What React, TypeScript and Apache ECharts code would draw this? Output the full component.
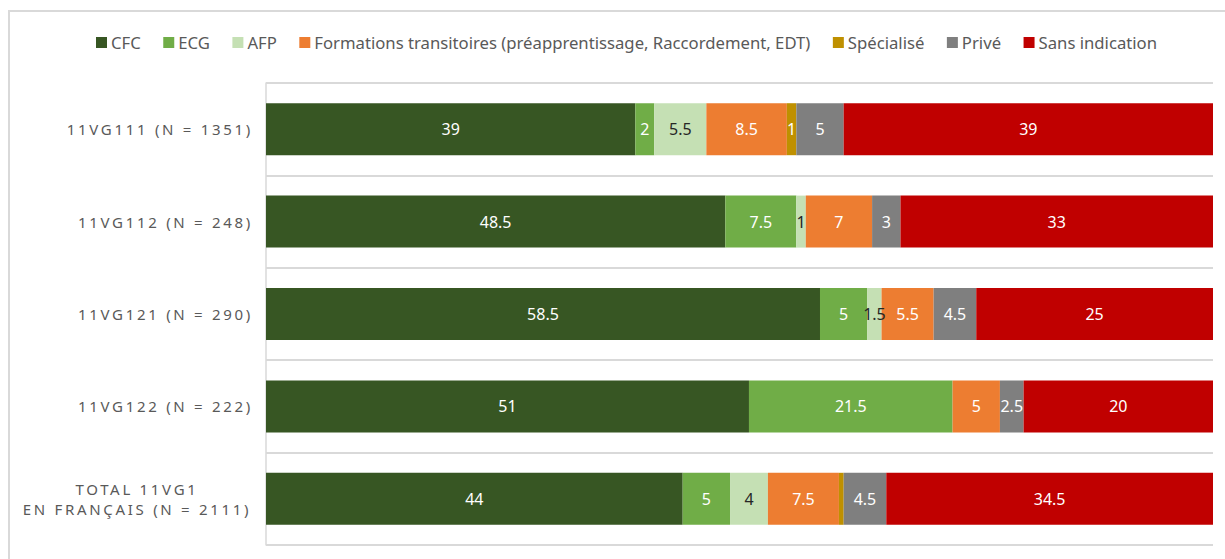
import React, { useEffect, useRef } from "react";
import * as echarts from "echarts";

const categories = [
  "11VG111 (N = 1351)",
  "11VG112 (N = 248)",
  "11VG121 (N = 290)",
  "11VG122 (N = 222)",
  "TOTAL 11VG1\nEN FRANÇAIS (N = 2111)",
];

const seriesNames = [
  "CFC",
  "ECG",
  "AFP",
  "Formations transitoires (préapprentissage, Raccordement, EDT)",
  "Spécialisé",
  "Privé",
  "Sans indication",
];

const cfc = [39, 48.5, 58.5, 51, 44];
const ecg = [2, 7.5, 5, 21.5, 5];
const afp = [5.5, 1, 1.5, 0, 4];
const transitoires = [8.5, 7, 5.5, 5, 7.5];
const specialise = [1, 0, 0, 0, 0.5];
const prive = [5, 3, 4.5, 2.5, 4.5];
const sansIndication = [39, 33, 25, 20, 34.5];

const seriesValues = [cfc, ecg, afp, transitoires, specialise, prive, sansIndication];
const colors = ["#375623", "#70AD47", "#C5E0B4", "#ED7D31", "#BF9000", "#7F7F7F", "#C00000"];
const labelColors = ["#ffffff", "#ffffff", "#262626", "#ffffff", "#ffffff", "#ffffff", "#ffffff"];

const FONT = "Noto Sans";

export default function App() {
  const ref = useRef<HTMLDivElement>(null);

  useEffect(() => {
    if (!ref.current) return;
    const chart = echarts.init(ref.current, undefined, { renderer: "svg" });

    // 100% stacked: each row is normalised to its total
    const totals = categories.map((_, i) =>
      seriesValues.reduce((s, arr) => s + arr[i], 0)
    );

    const series = seriesNames.map((name, si) => ({
      name,
      type: "bar",
      stack: "total",
      barWidth: 52,
      itemStyle: { color: colors[si] },
      label: {
        show: true,
        position: "inside",
        color: labelColors[si],
        fontSize: 16,
        fontFamily: FONT,
        formatter: (p: any) => {
          const raw = seriesValues[si][p.dataIndex];
          return raw > 0.5 ? String(raw) : "";
        },
      },
      emphasis: { disabled: true },
      data: seriesValues[si].map((v, i) => (v > 0 ? (v / totals[i]) * 100 : null)),
    }));

    const labelLines = categories.flatMap((c) => c.split("\n"));

    chart.setOption({
      animation: false,
      backgroundColor: "#ffffff",
      textStyle: { fontFamily: FONT },
      legend: {
        top: 29,
        left: 91,
        itemWidth: 11,
        itemHeight: 11,
        itemGap: 22.5,
        icon: "rect",
        textStyle: { fontSize: 16.7, color: "#595959", fontFamily: FONT, padding: [0, 0, 0, -1] },
        selectedMode: false,
        data: seriesNames,
      },
      grid: { left: 266, right: 12, top: 83, bottom: 14, containLabel: false },
      xAxis: {
        type: "value",
        min: 0,
        max: 100,
        show: false,
      },
      yAxis: {
        type: "category",
        inverse: true,
        data: categories,
        axisLine: { show: true, lineStyle: { color: "#d9d9d9", width: 1.5 } },
        axisTick: { show: false },
        splitLine: { show: true, lineStyle: { color: "#d9d9d9", width: 2 } },
        axisLabel: {
          margin: 13,
          fontSize: 15,
          color: "#595959",
          fontFamily: FONT,
          lineHeight: 20,
          formatter: (v: string) => {
            const parts = v.split("\n");
            if (parts.length === 1) return v;
            return parts.map((p) => `{c|${p}}`).join("\n");
          },
          rich: {
            c: { width: 232, align: "center", fontSize: 15, color: "#595959", fontFamily: FONT, lineHeight: 20 },
          },
        },
      },
      graphic: [
        {
          type: "rect",
          shape: { x: 9, y: 11, width: 1400, height: 800 },
          style: { fill: "none", stroke: "#d9d9d9", lineWidth: 2 },
          silent: true,
          z: -10,
        },
      ],
      series,
    });

    const applySpacing = () => {
      const texts = ref.current?.querySelectorAll("text") || [];
      texts.forEach((t: any) => {
        if (labelLines.includes((t.textContent || "").trim())) {
          t.style.letterSpacing = "2.7px";
        }
      });
    };
    applySpacing();
    chart.on("finished", applySpacing);

    return () => chart.dispose();
  }, []);

  return (
    <div
      ref={ref}
      style={{ position: "absolute", left: 0, top: 0, width: 1225, height: 559 }}
    />
  );
}
